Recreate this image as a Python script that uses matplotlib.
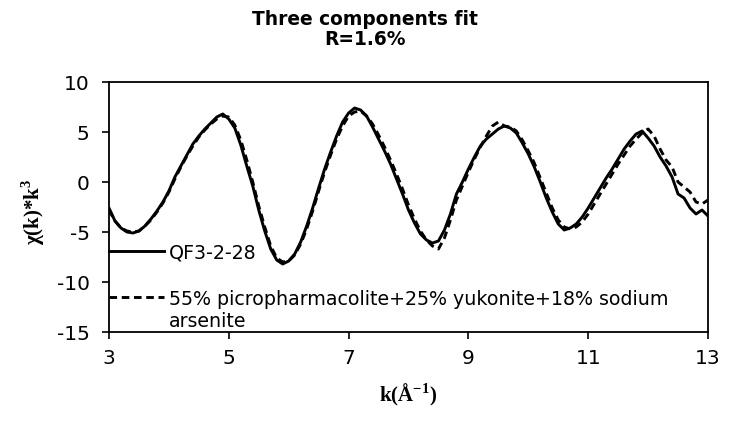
import matplotlib
matplotlib.use("Agg")
import matplotlib.pyplot as plt
import numpy as np

# ---------------- data ----------------
k_sample = [3.0, 3.1, 3.2, 3.3, 3.4, 3.5, 3.6, 3.7, 3.8, 3.9,
            4.0, 4.1, 4.2, 4.3, 4.4, 4.5, 4.6, 4.7, 4.8, 4.9,
            5.0, 5.1, 5.2, 5.3, 5.4, 5.5, 5.6, 5.7, 5.8, 5.9,
            6.0, 6.1, 6.2, 6.3, 6.4, 6.5, 6.6, 6.7, 6.8, 6.9,
            7.0, 7.1, 7.2, 7.3, 7.4, 7.5, 7.6, 7.7, 7.8, 7.9,
            8.0, 8.1, 8.2, 8.3, 8.4, 8.5, 8.6, 8.7, 8.8, 8.9,
            9.0, 9.1, 9.2, 9.3, 9.4, 9.5, 9.6, 9.7, 9.8, 9.9,
            10.0, 10.1, 10.2, 10.3, 10.4, 10.5, 10.6, 10.7, 10.8, 10.9,
            11.0, 11.1, 11.2, 11.3, 11.4, 11.5, 11.6, 11.7, 11.8, 11.9,
            12.0, 12.1, 12.2, 12.3, 12.4, 12.5, 12.6, 12.7, 12.8, 12.9,
            13.0]

chi_sample = [-2.6, -3.9, -4.6, -5.0, -5.1, -4.9, -4.4, -3.7, -2.9, -2.0,
              -0.9, 0.5, 1.6, 2.7, 3.8, 4.6, 5.3, 5.9, 6.5, 6.8,
              6.3, 5.4, 3.7, 1.6, -0.4, -2.8, -4.9, -6.7, -7.8, -8.2,
              -7.9, -7.2, -6.0, -4.4, -2.6, -0.6, 1.3, 3.0, 4.6, 6.0,
              6.9, 7.4, 7.2, 6.6, 5.5, 4.3, 3.1, 1.8, 0.3, -1.2,
              -2.8, -4.1, -5.2, -5.8, -6.1, -5.9, -4.8, -3.2, -1.2, 0.0,
              1.3, 2.5, 3.6, 4.3, 4.8, 5.3, 5.6, 5.4, 4.9, 3.9,
              2.8, 1.5, 0.0, -1.6, -3.0, -4.2, -4.8, -4.6, -4.2, -3.5,
              -2.6, -1.6, -0.6, 0.4, 1.3, 2.3, 3.3, 4.1, 4.8, 5.1,
              4.4, 3.6, 2.5, 1.6, 0.5, -1.2, -1.6, -2.6, -3.2, -2.8,
              -3.4]

chi_fit = [-2.8, -3.9, -4.6, -4.9, -5.0, -4.9, -4.4, -3.8, -3.0, -2.1,
           -1.0, 0.3, 1.5, 2.6, 3.6, 4.5, 5.2, 5.8, 6.3, 6.6,
           6.5, 5.7, 4.2, 2.2, 0.0, -2.4, -4.5, -6.4, -7.6, -8.0,
           -7.9, -7.3, -6.2, -4.7, -2.9, -0.9, 1.0, 2.7, 4.3, 5.6,
           6.6, 7.0, 7.1, 6.6, 5.8, 4.7, 3.5, 2.2, 0.8, -0.7,
           -2.3, -3.7, -4.9, -5.8, -6.4, -6.7, -5.6, -3.8, -1.8, -0.4,
           1.0, 2.3, 3.5, 4.6, 5.6, 6.0, 5.6, 5.5, 5.1, 4.2,
           3.1, 1.9, 0.4, -1.1, -2.6, -3.8, -4.5, -4.7, -4.5, -4.0,
           -3.2, -2.2, -1.2, -0.2, 0.8, 1.8, 2.7, 3.6, 4.3, 4.9,
           5.3, 4.6, 3.3, 2.2, 1.5, 0.0, -0.5, -1.0, -2.0, -2.2,
           -1.8]

series_labels = ["QF3-2-28",
                 "55% picropharmacolite+25% yukonite+18% sodium\narsenite"]
title_text = "Three components fit\nR=1.6%"
xlabel_text = "k(\u00c5$^{\\mathregular{-1}}$)"
ylabel_text = "\u03c7(k)*k$^{\\mathregular{3}}$"
xticks = [3, 5, 7, 9, 11, 13]
yticks = [-15, -10, -5, 0, 5, 10]

# ---------------- plot ----------------
plt.rcParams['font.family'] = ['DejaVu Sans']
plt.rcParams['axes.unicode_minus'] = False

fig = plt.figure(figsize=(7.29, 4.22), dpi=100)
ax = fig.add_axes([109/729, 1 - 332/422, (708 - 109)/729, (332 - 82)/422])

ax.plot(k_sample, chi_sample, color='black', lw=2.1, label=series_labels[0])
ax.plot(k_sample, chi_fit, color='black', lw=2.1, linestyle=(0, (2.6, 1.6)),
        label=series_labels[1])

ax.set_xlim(3, 13)
ax.set_ylim(-15, 10)
ax.set_xticks(xticks)
ax.set_yticks(yticks)
ax.tick_params(axis='both', which='both', direction='out', length=5, width=1.2,
               labelsize=14.5, top=False, right=False, pad=7)
ax.tick_params(axis='y', pad=9)
for s in ax.spines.values():
    s.set_linewidth(1.3)
    s.set_color('black')

ax.set_xlabel(xlabel_text, fontsize=15, fontweight='bold',
              family=['Liberation Serif', 'DejaVu Serif'], labelpad=10)
ax.set_ylabel(ylabel_text, fontsize=15, fontweight='bold',
              family=['Liberation Serif', 'DejaVu Serif'], labelpad=7)
ax.yaxis.set_label_coords(-0.103, 0.48)

fig.text(0.5, 1 - 29.5/422, title_text, ha='center', va='center',
         fontsize=13.4, fontweight='bold', linespacing=1.05)

leg = ax.legend(loc='lower left', bbox_to_anchor=(0.0, 0.004), frameon=False,
                fontsize=13.7, handlelength=2.9, handletextpad=0.25,
                borderaxespad=0.0, borderpad=0.0, labelspacing=1.42)
# put each legend line next to the first line of its label
for col in leg._legend_handle_box.get_children():
    for row in col.get_children():
        row.align = "top"

fig.savefig("out.png", dpi=100)
